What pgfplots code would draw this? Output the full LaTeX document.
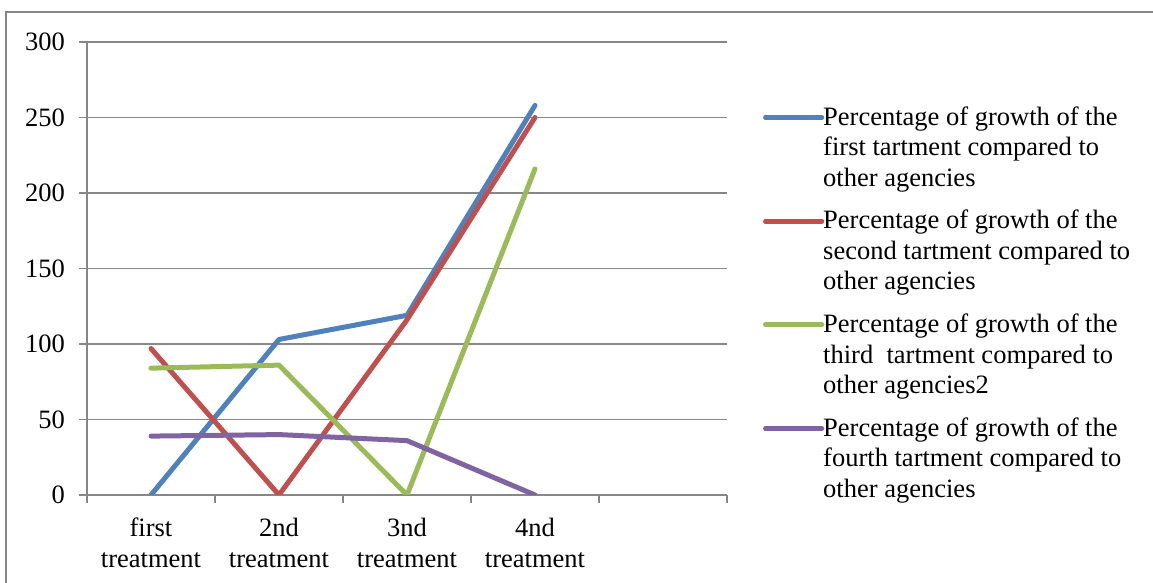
\documentclass[border=0pt]{standalone}
\usepackage{pgfplots}
\pgfplotsset{compat=1.18}
\usepackage{fontspec}
\setmainfont{Liberation Serif}
\definecolor{sblue}{HTML}{4F81BD}
\definecolor{sred}{HTML}{C0504D}
\definecolor{sgreen}{HTML}{9BBB59}
\definecolor{spurple}{HTML}{8064A2}
\definecolor{frame}{HTML}{878787}
\begin{document}
\begin{tikzpicture}
  \useasboundingbox (0,0) rectangle (576.5pt,291.5pt);
  \draw[frame, line width=0.75pt] (3pt,0pt) -- (3pt,285.5pt) -- (580pt,285.5pt);
  \begin{axis}[
      at={(43.5pt,44pt)}, anchor=south west,
      scale only axis,
      width=320pt, height=226.5pt,
      xmin=-0.5, xmax=4.5,
      ymin=0, ymax=300,
      xtick={0,1,2,3},
      xticklabels={first\\treatment,2nd\\treatment,3nd\\treatment,4nd\\treatment},
      minor xtick={-0.5,0.5,1.5,2.5,3.5,4.5},
      ytick={0,50,100,150,200,250,300},
      axis x line*=bottom, axis y line*=left,
      axis line style={frame, line width=0.75pt},
      ymajorgrids,
      grid style={frame, line width=0.75pt},
      tick align=outside,
      major tick length=4pt, minor tick length=4pt,
      major x tick style={draw=none},
      minor x tick style={frame, line width=0.75pt},
      y tick style={frame, line width=0.75pt},
      /pgf/number format/assume math mode=true,
      tick label style={font=\fontsize{13.25}{15.5}\selectfont},
      x tick label style={align=center, yshift=-4pt},
      y tick label style={xshift=-3.5pt},
      legend style={at={(1.056,0.867)}, anchor=north west, draw=none, fill=none,
        font=\fontsize{13.25}{15.25}\selectfont, row sep=6.5pt, inner sep=0pt,
        cells={align=left, inner xsep=0.5pt}},
      legend cell align=left,
      legend image code/.code={%
        \path (0pt,15.25pt) -- (25.5pt,15.25pt);
        \draw[#1, overlay] (0pt,15.25pt) -- (28pt,15.25pt);},
      every axis plot/.append style={line width=2.5pt, line cap=round, line join=round},
    ]
    \addplot[sblue] coordinates {(0,0) (1,103) (2,119) (3,258)};
    \addplot[sred] coordinates {(0,97) (1,0) (2,116) (3,250)};
    \addplot[sgreen] coordinates {(0,84) (1,86) (2,0) (3,216)};
    \addplot[spurple] coordinates {(0,39) (1,40) (2,36) (3,0)};
    \legend{{Percentage of growth of the\\first tartment compared to\\other agencies},
            {Percentage of growth of the\\second tartment compared to\\other agencies},
            {Percentage of growth of the\\third~ tartment compared to\\other agencies2},
            {Percentage of growth of the\\fourth tartment compared to\\other agencies}}
  \end{axis}
\end{tikzpicture}
\end{document}
